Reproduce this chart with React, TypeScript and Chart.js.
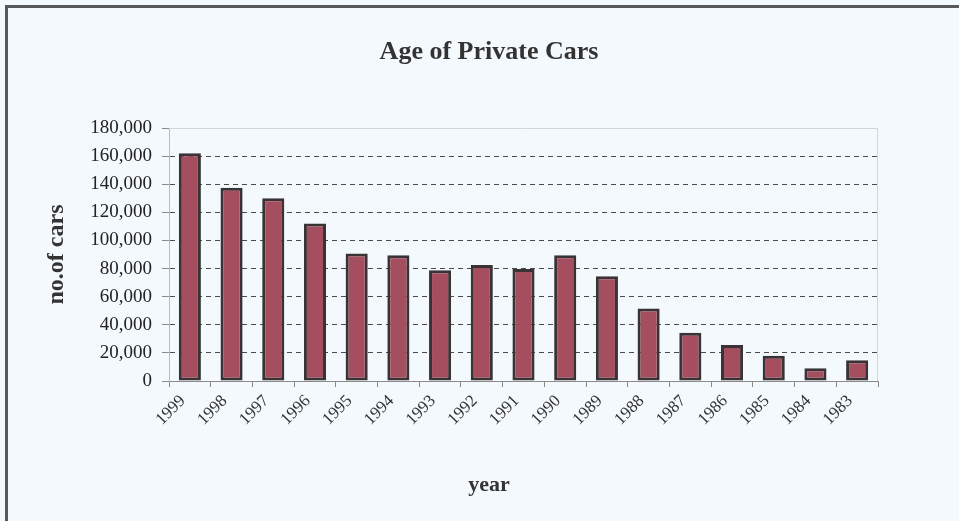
import React, { useEffect, useRef } from "react";
import { Chart, registerables } from "chart.js";

Chart.register(...registerables);

const years = ["1999","1998","1997","1996","1995","1994","1993","1992","1991","1990","1989","1988","1987","1986","1985","1984","1983"];
const cars = [162000,137500,130000,112000,90700,89500,78800,82600,79700,89500,74500,51500,34400,25600,18000,9000,14700];
const yTicks = [0,20000,40000,60000,80000,100000,120000,140000,160000,180000];
const chartTitle = "Age of Private Cars";
const xTitle = "year";
const yTitle = "no.of cars";

const SERIF = "'Liberation Serif', 'Times New Roman', serif";

const plotBorder = {
  id: "plotBorder",
  afterDatasetsDraw(chart: any) {
    const { ctx, chartArea: a } = chart;
    ctx.save();
    ctx.strokeStyle = "#d2d6d9";
    ctx.lineWidth = 1;
    ctx.beginPath();
    ctx.moveTo(a.left, a.top + 0.5);
    ctx.lineTo(a.right - 0.5, a.top + 0.5);
    ctx.lineTo(a.right - 0.5, a.bottom);
    ctx.stroke();
    ctx.restore();
  },
};

const titles = {
  id: "titles",
  afterDraw(chart: any) {
    const { ctx } = chart;
    ctx.save();
    ctx.fillStyle = "#333";
    ctx.textAlign = "center";
    ctx.textBaseline = "middle";
    ctx.font = `bold 26px ${SERIF}`;
    ctx.fillText(chartTitle, 489, 52);
    ctx.font = `bold 22px ${SERIF}`;
    ctx.fillText(xTitle, 489, 485);
    ctx.restore();
  },
};

export default function App() {
  const ref = useRef<HTMLCanvasElement>(null);
  useEffect(() => {
    if (!ref.current) return;
    const chart = new Chart(ref.current, {
      type: "bar",
      data: {
        labels: years,
        datasets: [
          {
            data: cars,
            backgroundColor: "#a44e60",
            borderColor: "#3a3336",
            borderWidth: 3,
            borderSkipped: false,
            categoryPercentage: 1,
            barPercentage: 0.53,
          },
        ],
      },
      options: {
        animation: false,
        responsive: false,
        devicePixelRatio: 1,
        layout: { padding: { left: 0, right: 81, top: 128, bottom: 0 } },
        plugins: {
          legend: { display: false },
          tooltip: { enabled: false },
          title: { display: false },
        },
        scales: {
          x: {
            afterFit(scale: any) {
              scale.height = 140;
            },
            grid: {
              offset: true,
              drawOnChartArea: false,
              drawTicks: true,
              tickLength: 6,
              tickColor: "#8a8a8a",
            },
            border: { color: "#8a8a8a", width: 1 },
            ticks: {
              color: "#333",
              font: { family: SERIF, size: 17 },
              minRotation: 45,
              maxRotation: 45,
              padding: 4,
              labelOffset: -7,
              autoSkip: false,
            },
          },
          y: {
            min: 0,
            max: 180000,
            afterFit(scale: any) {
              scale.width = 169;
            },
            afterBuildTicks(scale: any) {
              scale.ticks = yTicks.map((v) => ({ value: v }));
            },
            grid: {
              color: (ctx: any) =>
                ctx.tick && (ctx.tick.value === 0 || ctx.tick.value === 180000) ? "rgba(0,0,0,0)" : "#4a4a4a",
              lineWidth: 1,
              drawTicks: true,
              tickLength: 7,
              tickColor: "#8a8a8a",
              tickBorderDash: [],
            },
            border: { color: "#b8bcc0", width: 1, dash: [5, 4] },
            ticks: {
              color: "#222",
              font: { family: SERIF, size: 19 },
              padding: 10,
              callback: (v: any) => Number(v).toLocaleString("en-US"),
            },
            title: {
              display: true,
              text: yTitle,
              color: "#333",
              font: { family: SERIF, size: 24, weight: "bold", lineHeight: 1.2 },
              padding: { top: 42, bottom: 0 },
            },
          },
        },
      },
      plugins: [plotBorder, titles],
    } as any);
    return () => chart.destroy();
  }, []);

  return (
    <div
      style={{
        position: "fixed",
        left: 0,
        top: 0,
        width: 959,
        height: 521,
        background: "#f3f9fc",
        overflow: "hidden",
      }}
    >
      <canvas ref={ref} width={959} height={521} style={{ position: "absolute", left: 0, top: 0 }} />
      <div
        style={{
          position: "absolute",
          left: 5,
          top: 5,
          width: 960,
          height: 520,
          borderLeft: "3px solid #58595b",
          borderTop: "3px solid #58595b",
          pointerEvents: "none",
        }}
      />
    </div>
  );
}
